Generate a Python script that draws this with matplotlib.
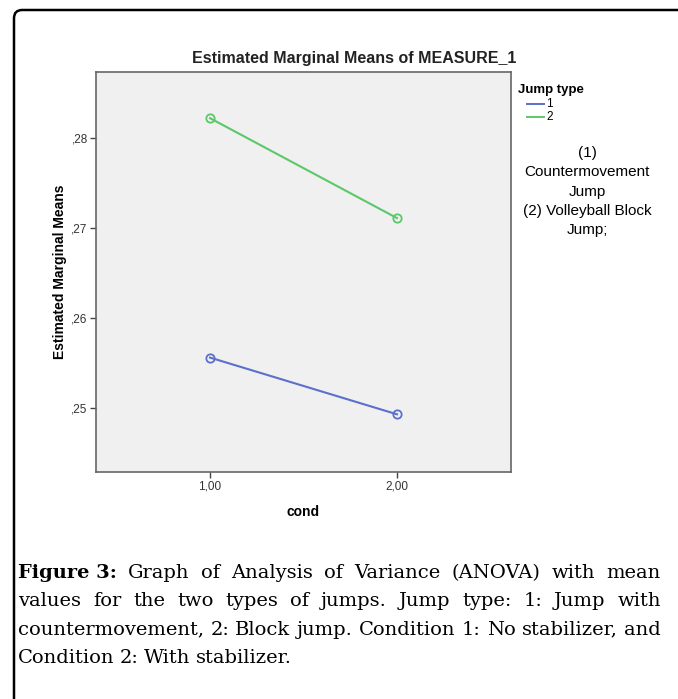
import matplotlib.pyplot as plt
from matplotlib.patches import FancyBboxPatch

# condition levels and estimated marginal means per jump type
COND = [1.0, 2.0]
COND_LABELS = ['1,00', '2,00']
MEANS_TYPE1 = [0.2556, 0.2493]
MEANS_TYPE2 = [0.2822, 0.2711]
Y_TICKS = [0.25, 0.26, 0.27, 0.28]
Y_TICK_LABELS = [',25', ',26', ',27', ',28']

CAPTION_LINES = [
    "Graph of Analysis of Variance (ANOVA) with mean",
    "values for the two types of jumps. Jump type: 1: Jump with",
    "countermovement, 2: Block jump. Condition 1: No stabilizer, and",
    "Condition 2: With stabilizer.",
]

W, H = 678, 699
fig = plt.figure(figsize=(W / 100, H / 100), dpi=100)


def fx(px):
    return px / W


def fy(py):
    return 1 - py / H


# outer rounded frame (runs off the right and bottom edges)
frame = FancyBboxPatch((fx(14), fy(760)), fx(720), fy(10) - fy(760),
                       boxstyle='round,pad=0,rounding_size=0.012',
                       transform=fig.transFigure, fill=False,
                       edgecolor='black', linewidth=1.8, clip_on=False)
fig.patches.append(frame)

ax = fig.add_axes([fx(96), fy(472), fx(511) - fx(96), fy(72) - fy(472)])
ax.set_facecolor('#f0f0f0')

blue = '#5b70cc'
green = '#5cc86a'
ax.plot(COND, MEANS_TYPE1, color=blue, lw=1.5, marker='o', ms=6,
        mfc='none', mec=blue, mew=1.3)
ax.plot(COND, MEANS_TYPE2, color=green, lw=1.5, marker='o', ms=6,
        mfc='none', mec=green, mew=1.3)

ax.set_xlim(0.39, 2.61)
ax.set_ylim(0.24289, 0.28733)
ax.set_xticks(COND)
ax.set_xticklabels(COND_LABELS, family='Liberation Sans')
ax.set_yticks(Y_TICKS)
ax.set_yticklabels(Y_TICK_LABELS, family='Liberation Sans')
ax.tick_params(axis='both', direction='out', length=4, width=1,
               color='#444444', labelsize=8.5, labelcolor='#333333', pad=2)
for s in ax.spines.values():
    s.set_color('#666666')
    s.set_linewidth(1.2)

ax.set_xlabel('cond', fontsize=10, fontweight='bold', labelpad=9,
              family='Liberation Sans')
ax.set_ylabel('Estimated Marginal Means', fontsize=10, fontweight='bold',
              labelpad=3, family='Liberation Sans')
fig.text(fx(354), fy(58), 'Estimated Marginal Means of MEASURE_1',
         ha='center', va='center', fontsize=11.5, fontweight='bold',
         family='Liberation Sans', color='#222222')

# legend drawn by hand, SPSS style
fig.text(fx(518), fy(90), 'Jump type', fontsize=9.5, fontweight='bold',
         family='Liberation Sans', va='center')
for i, (c, lab) in enumerate([(blue, '1'), (green, '2')]):
    yy = fy(104 + i * 13)
    fig.add_artist(plt.Line2D([fx(527), fx(544)], [yy, yy], color=c, lw=1.4,
                              transform=fig.transFigure))
    fig.text(fx(546), yy, lab, fontsize=8.5, va='center',
             family='Liberation Sans')

note = ['(1)', 'Countermovement', 'Jump', '(2) Volleyball Block', 'Jump;']
for i, t in enumerate(note):
    fig.text(fx(587), fy(153 + i * 19.3), t, ha='center', va='center',
             fontsize=11, family='Liberation Sans')

# justified caption
renderer = fig.canvas.get_renderer()
left, right = 18, 661
cap_size = 14
for li, line in enumerate(CAPTION_LINES):
    yy = fy(578 + li * 28.3)
    words = line.split(' ')
    items = []
    if li == 0:
        items.append(('Figure 3:', 'bold'))
    items += [(w, 'normal') for w in words]
    arts = []
    total = 0
    for w, weight in items:
        t = fig.text(0, yy, w, fontsize=cap_size, fontweight=weight,
                     family='DejaVu Serif', va='baseline', ha='left')
        wpx = t.get_window_extent(renderer).width
        arts.append((t, wpx))
        total += wpx
    if li < len(CAPTION_LINES) - 1:
        gap = (right - left - total) / (len(arts) - 1)
    else:
        gap = 5.5
    x = left
    for t, wpx in arts:
        t.set_x(fx(x))
        x += wpx + gap

fig.savefig('out.png', dpi=100)
